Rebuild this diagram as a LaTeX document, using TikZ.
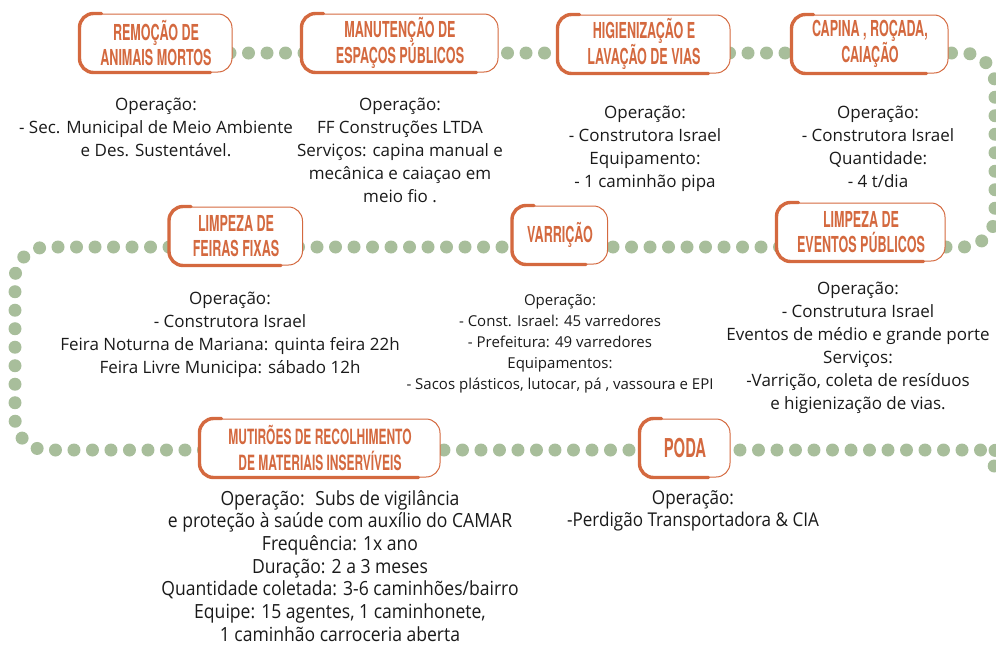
\documentclass[tikz,border=0pt]{standalone}
\usepackage{fontspec}
\setmainfont{Open Sans}
\newfontfamily\headfont[FakeStretch=0.57]{TeX Gyre Heros}
\newfontfamily\narrowfont[FakeStretch=0.9]{Open Sans}
\usetikzlibrary{positioning,calc}
\definecolor{limpaorange}{HTML}{D4693F}
\definecolor{limpagreen}{HTML}{A8BE9B}
\definecolor{limpatext}{HTML}{1A1A1A}

\newcommand{\pincelada}[1]{%
  \draw[pincel] ([xshift=22pt]#1.north west) -- (#1.north west) -- (#1.south west)
        -- ([xshift=-22pt]#1.south east);}

\begin{document}
\begin{tikzpicture}[x=1pt,y=-1pt,
    titulo/.style = {rectangle,rounded corners=14pt,draw=limpaorange,line width=1pt,fill=white,
                     align=center,text=limpaorange,inner sep=2pt,minimum height=58pt,
                     font=\headfont\bfseries\fontsize{22}{25}\selectfont},
    pincel/.style = {draw=limpaorange,line width=3.4pt,rounded corners=14pt,line cap=round},
    texto/.style  = {align=center,anchor=north,inner sep=0pt,text=limpatext,
                     font=\fontsize{17}{23}\selectfont},
    trilha/.style = {draw=limpagreen,line width=13pt,line cap=round,
                     dash pattern=on 0pt off 18.5pt,rounded corners=32pt},
  ]
  \useasboundingbox (0,0) rectangle (996,648);

  % Trilha pontilhada por tras dos titulos
  \coordinate (ini) at (156,53);
  \coordinate (fim) at (1004,482);
  \draw[trilha] (ini) -- (995,53) -- (995,247) -- (15,247) -- (15,450) -- (965,450)
        to[out=0,in=125] (fim);

  % Titulos
  \node[titulo,minimum width=152pt] (remocao)  at (156,43) {REMOÇÃO DE\\ANIMAIS MORTOS};
  \node[titulo,minimum width=196pt] (manut)    at (400,43) {MANUTENÇÃO DE\\ESPAÇOS PÚBLICOS};
  \node[titulo,minimum width=172pt] (higien)   at (644,44) {HIGIENIZAÇÃO E\\LAVAÇÃO DE VIAS};
  \node[titulo,minimum width=156pt] (capina)   at (870,44) {CAPINA , ROÇADA,\\CAIAÇÃO};
  \node[titulo,minimum width=133pt] (feiras)   at (236,236) {LIMPEZA DE\\FEIRAS FIXAS};
  \node[titulo,minimum width=95pt]  (varricao) at (560,235) {VARRIÇÃO};
  \node[titulo,minimum width=168pt] (eventos)  at (861,232) {LIMPEZA DE\\EVENTOS PÚBLICOS};
  \node[titulo,minimum width=240pt,font=\headfont\bfseries\fontsize{21}{26}\selectfont]
       (mutiroes) at (320,448) {MUTIRÕES DE RECOLHIMENTO\\DE MATERIAIS INSERVÍVEIS};
  \node[titulo,minimum width=90pt,font=\headfont\bfseries\fontsize{26}{28}\selectfont]
       (poda)     at (685,448) {PODA};

  \foreach \caixa in {remocao,manut,higien,capina,feiras,varricao,eventos,mutiroes,poda}
    \pincelada{\caixa};

  % Descricoes
  \node[texto] (txremocao) at (156,98) {Operação:\\- Sec. Municipal de Meio Ambiente\\
        e Des. Sustentável.};
  \node[texto] (txmanut) at (400,98) {Operação:\\FF Construções LTDA\\
        Serviços: capina manual e\\mecânica e caiaçao em\\meio fio .};
  \node[texto] (txhigien) at (645,106) {Operação:\\- Construtora Israel\\
        Equipamento:\\- 1 caminhão pipa};
  \node[texto] (txcapina) at (878,106) {Operação:\\- Construtora Israel\\
        Quantidade:\\- 4 t/dia};
  \node[texto] (txfeiras) at (230,292) {Operação:\\- Construtora Israel\\
        Feira Noturna de Mariana: quinta feira 22h\\Feira Livre Municipa: sábado 12h};
  \node[texto,font=\fontsize{15}{21}\selectfont] (txvarricao) at (560,294)
        {Operação:\\- Const. Israel: 45 varredores\\- Prefeitura: 49 varredores\\
        Equipamentos:\\- Sacos plásticos, lutocar, pá , vassoura e EPI};
  \node[texto] (txeventos) at (858,282) {Operação:\\- Construtura Israel\\
        Eventos de médio e grande porte\\Serviços:\\-Varrição, coleta de resíduos\\
        e higienização de vias.};
  \node[texto,font=\narrowfont\fontsize{19.5}{22.7}\selectfont] (txmutiroes) at (340,490)
        {Operação:~ Subs de vigilância\\e proteção à saúde com auxílio do CAMAR\\
        Frequência: 1x ano\\Duração: 2 a 3 meses\\Quantidade coletada: 3-6 caminhões/bairro\\
        Equipe: 15 agentes, 1 caminhonete,\\1 caminhão carroceria aberta};
  \node[texto,font=\narrowfont\fontsize{19}{22.7}\selectfont] (txpoda) at (693,490)
        {Operação:\\-Perdigão Transportadora \& CIA};

\end{tikzpicture}
\end{document}
